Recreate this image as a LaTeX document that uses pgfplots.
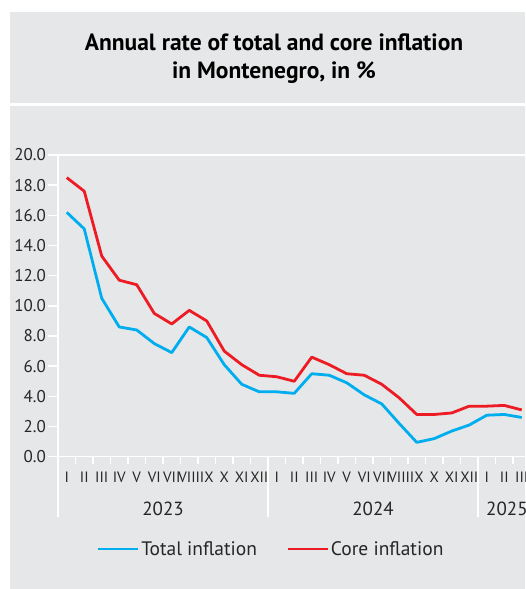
\documentclass[border=0pt]{standalone}
\usepackage{fontspec}
\setmainfont{PT Sans}
\usepackage{pgfplots}
\pgfplotsset{compat=1.18}
\definecolor{panelgray}{HTML}{E6E7E8}
\definecolor{totalblue}{HTML}{00AEEF}
\definecolor{corered}{HTML}{ED1C24}

\pgfplotstableread{
x total core
0  16.2 18.5
1  15.1 17.6
2  10.5 13.3
3  8.6  11.7
4  8.4  11.4
5  7.5  9.5
6  6.9  8.8
7  8.6  9.7
8  7.9  9.0
9  6.1  7.0
10 4.8  6.1
11 4.3  5.4
12 4.3  5.3
13 4.2  5.0
14 5.5  6.6
15 5.4  6.1
16 4.9  5.5
17 4.1  5.4
18 3.5  4.8
19 2.2  3.9
20 0.95 2.8
21 1.2  2.8
22 1.7  2.9
23 2.1  3.35
24 2.75 3.35
25 2.8  3.4
26 2.6  3.1
}\inflation

\begin{document}
\begin{tikzpicture}[x=1pt,y=1pt]
  \useasboundingbox (0,0) rectangle (525,589);
  \fill[white] (0,0) rectangle (525,589);
  \fill[panelgray] (10,486) rectangle (525,577);
  \fill[panelgray] (10,0) rectangle (525,483);
  \node[align=center, inner sep=0pt, font=\fontsize{23.5}{28}\selectfont\bfseries]
    at (274,530) {Annual rate of total and core inflation\\in Montenegro, in \%};
  % white frame pieces, outward ticks and year separators (axis: x 58..525, y 132.3..434)
  \draw[white, line width=1.5pt] (58,434) -- (525,434);
  \foreach \v in {0,1,...,10}
    \draw[white, line width=1.5pt] (48,132.3+30.17*\v) -- (58,132.3+30.17*\v);
  \foreach \m in {1,...,27}
    \draw[white, line width=1.5pt] (58+17.5*\m,132.3) -- (58+17.5*\m,125.3);
  \foreach \m in {0,12,24}
    \draw[white, line width=1.5pt] (58+17.5*\m,132.3) -- (58+17.5*\m,72.3);
  \begin{axis}[
      at={(58pt,132.3pt)}, anchor=south west,
      scale only axis,
      width=467pt, height=301.7pt,
      xmin=-0.5, xmax=26.186,
      ymin=0, ymax=20,
      clip=false,
      axis x line*=bottom,
      axis y line*=left,
      axis line style={white, line width=1.5pt},
      tick style={draw=none},
      ytick={0,2,...,20},
      yticklabel style={anchor=east, inner sep=0pt, xshift=-12pt,
        font=\fontsize{17}{17}\selectfont, text=black!85,
        /pgf/number format/.cd, fixed, fixed zerofill, precision=1,
        assume math mode=true},
      xtick={0,...,26},
      xticklabels={I,II,III,IV,V,VI,VII,VIII,IX,X,XI,XII,
                   I,II,III,IV,V,VI,VII,VIII,IX,X,XI,XII,
                   I,II,III},
      xticklabel style={anchor=base, inner sep=0pt, yshift=-26pt,
        font=\fontsize{15}{15}\selectfont, text=black!85},
      legend columns=2,
      legend style={at={(axis description cs:0.456,-0.306)}, anchor=center,
        draw=none, fill=none, font=\fontsize{19.5}{19.5}\selectfont,
        text=black!85,
        /tikz/every even column/.append style={column sep=27pt}},
      legend image code/.code={\draw[#1] (0pt,0pt) -- (40pt,0pt);},
    ]
    \addplot[totalblue, line width=2.8pt, line join=round] table[x=x, y=total] {\inflation};
    \addplot[corered, line width=2.8pt, line join=round] table[x=x, y=core] {\inflation};
    \legend{Total inflation, Core inflation}
  \end{axis}
  \node[anchor=base, inner sep=0pt, font=\fontsize{19}{19}\selectfont, text=black!85] at (163,73) {2023};
  \node[anchor=base, inner sep=0pt, font=\fontsize{19}{19}\selectfont, text=black!85] at (373,73) {2024};
  \node[anchor=base west, inner sep=0pt, font=\fontsize{19}{19}\selectfont, text=black!85] at (486,73) {2025};
\end{tikzpicture}
\end{document}
